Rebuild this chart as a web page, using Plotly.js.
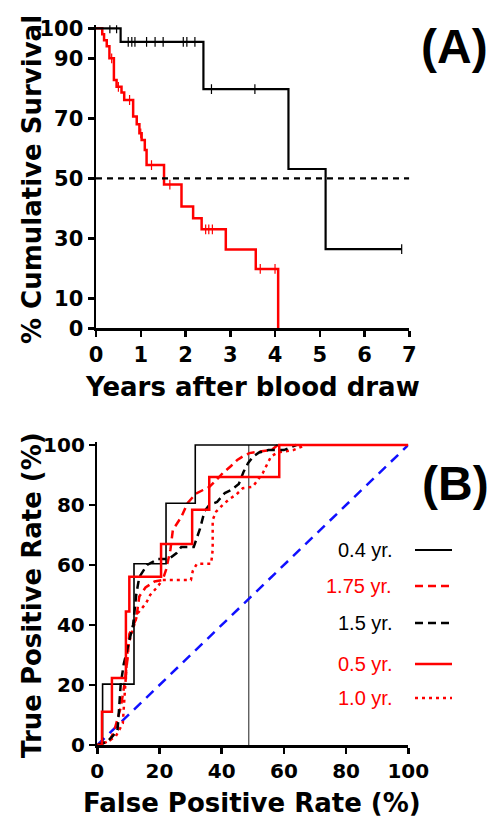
<!DOCTYPE html>
<html>
<head>
<meta charset="utf-8">
<script src="https://cdn.plot.ly/plotly-3.0.1.min.js"></script>
<style>html,body{margin:0;padding:0;background:#fff;}#chart{width:489px;height:819px;}</style>
</head>
<body>
<div id="chart"></div>
<script>
// ---------- Panel A: Kaplan-Meier data ----------
const kmHighT = [0, 0.55, 2.40, 4.30, 5.13, 6.83];
const kmHighS = [100, 95.5, 79.7, 53.1, 26.4, 26.4];
const kmHighCensT = [0.31, 0.46, 0.72, 0.80, 0.87, 1.13, 1.32, 1.50, 1.95, 2.03, 2.21, 2.58, 3.55, 6.83];
const kmHighCensS = [100, 100, 95.5, 95.5, 95.5, 95.5, 95.5, 95.5, 95.5, 95.5, 95.5, 79.7, 79.7, 26.4];

const kmLowT = [0, 0.14, 0.18, 0.24, 0.30, 0.40, 0.46, 0.57, 0.63, 0.83, 0.91, 0.97, 1.02, 1.09, 1.13, 1.52, 1.91, 2.17, 2.36, 2.90, 3.57, 4.07];
const kmLowS = [100, 98, 96, 94, 90, 82.8, 80.5, 78.6, 76.1, 70.6, 68, 65, 62.8, 59.4, 54.4, 47.9, 40.6, 36.7, 33, 26.3, 19.8, 0];
const kmLowCensT = [0.35, 0.50, 0.75, 1.00, 1.24, 1.65, 2.45, 2.52, 2.60, 3.67, 4.00];
const kmLowCensS = [90, 80.5, 76.1, 65, 54.4, 47.9, 33, 33, 33, 19.8, 19.8];

const medianX = [0, 7];
const medianY = [50, 50];
const yearTicks = [0, 1, 2, 3, 4, 5, 6, 7];
const survTicks = [0, 10, 30, 50, 70, 90, 100];

// ---------- Panel B: ROC data ----------
const roc04FPR = [0, 1.7, 1.7, 11.8, 11.8, 22.1, 22.1, 31.5, 31.5, 100];
const roc04TPR = [0, 0, 20.3, 20.3, 60.4, 60.4, 80.6, 80.6, 100, 100];
const roc05FPR = [0, 1.5, 1.5, 4.7, 4.7, 9.2, 9.2, 10.3, 10.3, 20.5, 20.5, 30.5, 30.5, 36, 36, 58.5, 58.5, 100];
const roc05TPR = [0, 0, 11.1, 11.1, 22.3, 22.3, 44.5, 44.5, 56.1, 56.1, 67, 67, 78.4, 78.4, 89.3, 89.3, 100, 100];
const roc15FPR = [0, 3, 5, 6.5, 7, 7.5, 8.5, 10, 11.5, 12.5, 13.5, 16, 19.5, 23, 25.5, 27, 31, 33, 34.5, 36, 38.5, 41, 43, 45.5, 47, 48.5, 50, 52, 55, 60, 64];
const roc15TPR = [0, 1, 3, 5, 12, 20, 27, 33, 40, 50, 56, 60, 62, 62, 64, 66, 66, 72, 78, 80, 81, 84, 85, 87, 91, 94, 96, 97.5, 98.3, 98.3, 100];
const roc175FPR = [0, 2.3, 4, 5.5, 7.6, 8.7, 9.8, 10.3, 11.5, 12.5, 13.5, 15.5, 18.4, 21, 22.1, 23.5, 24.3, 27, 29, 31.7, 34, 36, 38, 40.3, 43, 45, 46.8, 48.9, 52.1, 56, 58];
const roc175TPR = [0, 1, 1.5, 5, 12.8, 20, 29.5, 37, 40, 42, 49.5, 52.5, 54.5, 55, 58.4, 65, 71.7, 76, 80.6, 83.8, 85, 86, 88, 90.6, 93, 95, 96.2, 97.3, 97.8, 98.3, 100];
const roc10FPR = [0, 2, 4, 6, 8.2, 9, 9.8, 11.4, 13, 15.7, 17, 18.9, 21, 25, 30.1, 30.7, 32, 36.6, 37.1, 37.1, 38.2, 40.3, 42.5, 44.6, 46.8, 50, 53.2, 54.8, 55.9, 58, 63, 67];
const roc10TPR = [0, 0.5, 1.5, 3, 7.2, 20, 32.8, 38.4, 43.9, 47.3, 50, 52.2, 55, 55, 55, 58, 60.4, 60.4, 65, 75, 77.8, 80, 82, 83.4, 85.6, 86.1, 90.6, 94, 96.2, 97.5, 98.3, 100];
const chanceX = [0, 100];
const chanceY = [0, 100];
const cutoffX = [48.7, 48.7];
const cutoffY = [0, 100];
const rateTicks = [0, 20, 40, 60, 80, 100];

const legendLabels = ['0.4 yr.', '1.75 yr.', '1.5 yr.', '0.5 yr.', '1.0 yr.'];

// ---------- helpers ----------
const W = 489, H = 819;
const px = v => v / W;
const py = v => 1 - v / H;
const BLACK = '#000000', RED = '#ff0000', BLUE = '#1010ff';

const traces = [
  {x: kmLowT, y: kmLowS, type: 'scatter', mode: 'lines', line: {shape: 'hv', color: RED, width: 2.5}, xaxis: 'x', yaxis: 'y'},
  {x: kmLowCensT, y: kmLowCensS, type: 'scatter', mode: 'markers', marker: {symbol: 'line-ns-open', size: 7, color: RED, line: {color: RED, width: 1.2}}, xaxis: 'x', yaxis: 'y'},
  {x: kmHighT, y: kmHighS, type: 'scatter', mode: 'lines', line: {shape: 'hv', color: BLACK, width: 2.2}, xaxis: 'x', yaxis: 'y'},
  {x: kmHighCensT, y: kmHighCensS, type: 'scatter', mode: 'markers', marker: {symbol: 'line-ns-open', size: 7, color: BLACK, line: {color: '#333', width: 1.2}}, xaxis: 'x', yaxis: 'y'},
  {x: medianX, y: medianY, type: 'scatter', mode: 'lines', line: {color: BLACK, width: 2.2, dash: '6px,5px'}, xaxis: 'x', yaxis: 'y'},

  {x: cutoffX, y: cutoffY, type: 'scatter', mode: 'lines', line: {color: '#444', width: 1.2}, xaxis: 'x2', yaxis: 'y2'},
  {x: chanceX, y: chanceY, type: 'scatter', mode: 'lines', line: {color: BLUE, width: 2.5, dash: '10px,7px'}, xaxis: 'x2', yaxis: 'y2'},
  {x: roc10FPR, y: roc10TPR, type: 'scatter', mode: 'lines', line: {color: RED, width: 2.5, dash: '3px,4px'}, xaxis: 'x2', yaxis: 'y2'},
  {x: roc175FPR, y: roc175TPR, type: 'scatter', mode: 'lines', line: {color: RED, width: 2.5, dash: '8px,5px'}, xaxis: 'x2', yaxis: 'y2'},
  {x: roc15FPR, y: roc15TPR, type: 'scatter', mode: 'lines', line: {color: BLACK, width: 2.5, dash: '8px,5px'}, xaxis: 'x2', yaxis: 'y2'},
  {x: roc04FPR, y: roc04TPR, type: 'scatter', mode: 'lines', line: {color: BLACK, width: 1.6}, xaxis: 'x2', yaxis: 'y2'},
  {x: roc05FPR, y: roc05TPR, type: 'scatter', mode: 'lines', line: {color: RED, width: 2.5}, xaxis: 'x2', yaxis: 'y2'}
];

const tickFontA = {family: 'DejaVu Sans', size: 21, color: BLACK, weight: 'bold'};
const tickFontB = {family: 'DejaVu Sans', size: 20, color: BLACK, weight: 'bold'};
const axisCommon = {showgrid: false, zeroline: false, showline: true, linecolor: BLACK, linewidth: 2.5,
  ticks: 'outside', ticklen: 6, tickwidth: 2.5, tickcolor: BLACK, fixedrange: true};

const titleFont = {family: 'DejaVu Sans', size: 26, color: BLACK, weight: 'bold'};
const panelFont = {family: 'Liberation Sans', size: 48, color: BLACK, weight: 'bold'};
const legFont = {family: 'Liberation Sans', size: 20};

const legendColors = [BLACK, RED, BLACK, RED, RED];
const legendDash = ['solid', '8px,5px', '8px,5px', 'solid', '3px,4px'];
const legendRowsY = [550, 586, 623, 664, 698];

const annotations = [
  {text: '% Cumulative Survival', x: px(32), y: py(180), xref: 'paper', yref: 'paper', textangle: -90, showarrow: false, font: titleFont, xanchor: 'center', yanchor: 'middle'},
  {text: 'Years after blood draw', x: px(252), y: py(387), xref: 'paper', yref: 'paper', showarrow: false, font: titleFont, xanchor: 'center', yanchor: 'middle'},
  {text: 'True Positive Rate (%)', x: px(32), y: py(595), xref: 'paper', yref: 'paper', textangle: -90, showarrow: false, font: titleFont, xanchor: 'center', yanchor: 'middle'},
  {text: 'False Positive Rate (%)', x: px(252), y: py(803), xref: 'paper', yref: 'paper', showarrow: false, font: titleFont, xanchor: 'center', yanchor: 'middle'},
  {text: '(A)', x: px(454), y: py(46), xref: 'paper', yref: 'paper', showarrow: false, font: panelFont, xanchor: 'center', yanchor: 'middle'},
  {text: '(B)', x: px(455), y: py(483), xref: 'paper', yref: 'paper', showarrow: false, font: panelFont, xanchor: 'center', yanchor: 'middle'}
];
const shapes = [];
legendLabels.forEach((lab, i) => {
  annotations.push({text: lab, x: px(394), y: py(legendRowsY[i]), xref: 'paper', yref: 'paper', showarrow: false,
    font: Object.assign({color: legendColors[i]}, legFont), xanchor: 'right', yanchor: 'middle'});
  shapes.push({type: 'line', xref: 'paper', yref: 'paper', x0: px(415), x1: px(452), y0: py(legendRowsY[i]), y1: py(legendRowsY[i]),
    line: {color: legendColors[i], width: i === 0 ? 2 : 2.5, dash: legendDash[i]}});
});

const layout = {
  width: W, height: H,
  margin: {l: 0, r: 0, t: 0, b: 0},
  paper_bgcolor: '#fff', plot_bgcolor: '#fff',
  showlegend: false,
  xaxis: Object.assign({}, axisCommon, {domain: [px(96), px(409.3)], range: [0, 7], tickvals: yearTicks, tickfont: tickFontA, anchor: 'y'}),
  yaxis: Object.assign({}, axisCommon, {domain: [py(328.3), py(25.3)], range: [0, 101], tickvals: survTicks, tickfont: tickFontA, anchor: 'x'}),
  xaxis2: Object.assign({}, axisCommon, {domain: [px(97.3), px(408.3)], range: [0, 100], tickvals: rateTicks, tickfont: tickFontB, anchor: 'y2'}),
  yaxis2: Object.assign({}, axisCommon, {domain: [py(745), py(442)], range: [0, 101], tickvals: rateTicks, tickfont: tickFontB, anchor: 'x2'}),
  annotations: annotations,
  shapes: shapes
};

Plotly.newPlot('chart', traces, layout, {displayModeBar: false, staticPlot: true});
</script>
</body>
</html>
